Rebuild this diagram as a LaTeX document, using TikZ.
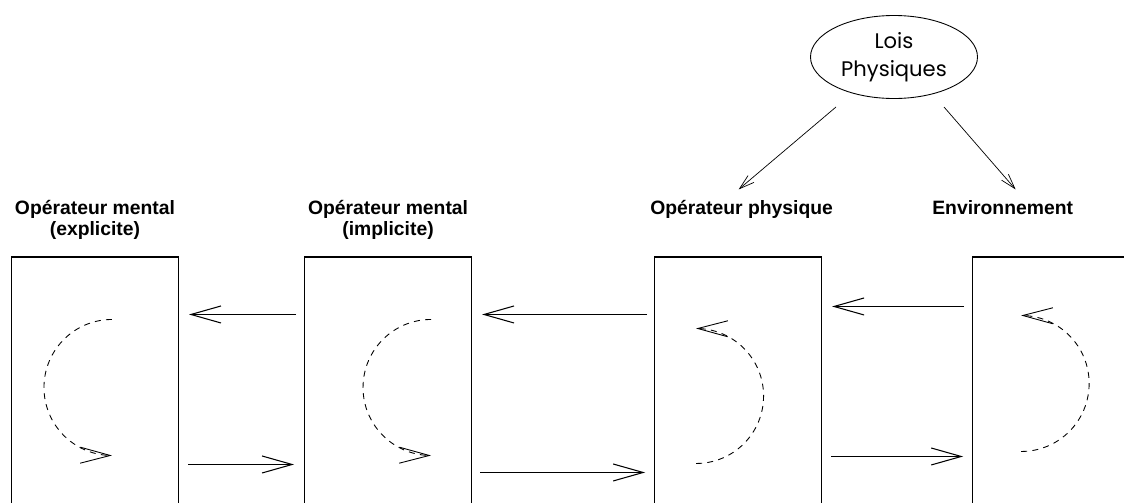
\documentclass[tikz,border=0pt]{standalone}
\usepackage{fontspec}
\setmainfont{Liberation Sans}
\newfontfamily\loisfont{Poppins}
\usetikzlibrary{positioning,calc,shapes.geometric,arrows.meta,bending}

\tikzset{
  boite/.style={draw, line width=0.6pt, minimum width=3.34cm, minimum height=5.26cm, inner sep=0pt},
  titre/.style={font=\bfseries\fontsize{11}{12}\selectfont, align=center, anchor=base, inner sep=0pt},
  fleche/.style={line width=0.6pt, -{Straight Barb[length=0.6cm,width=0.34cm]}},
  boucle/.style={line width=0.5pt, dash pattern=on 3.4pt off 3pt, -{Straight Barb[length=0.6cm,width=0.32cm,flex]}},
  loi/.style={line width=0.4pt, -{Straight Barb[length=0.3cm,width=0.18cm]}},
}

\begin{document}
\begin{tikzpicture}
  \useasboundingbox (0,0) rectangle (22.48,-10.04);
  \clip (0,0) rectangle (22.48,-10.04);
  % les quatre boites
  \node[boite] (b1) at (1.90,-7.77) {};
  \node[boite, right=2.5cm of b1] (b2) {};
  \node[boite, right=3.64cm of b2] (b3) {};
  \node[boite, right=3.0cm of b3] (b4) {};
  % base = derniere ligne du titre
  \node[titre] (t1) at ($(b1.north)+(0,0.42)$) {Opérateur mental\\(explicite)};
  \node[titre] (t2) at ($(b2.north)+(0,0.42)$) {Opérateur mental\\(implicite)};
  \node[titre] (t3) at ($(b3.north)+(0.07,0.84)$) {Opérateur physique};
  \node[titre] (t4) at ($(b4.north)+(-1.07,0.84)$) {Environnement};
  \node[draw, ellipse, line width=0.5pt, minimum width=3.34cm, minimum height=1.66cm, inner sep=0pt,
        align=center, font=\loisfont\fontsize{12}{16}\selectfont] (lois) at (17.88,-1.14) {Lois\\Physiques};
  \draw[loi] ($(lois.center)+(-1.16,-1.00)$) -- ($(t3.base)+(-0.06,0.5)$);
  \draw[loi] ($(lois.center)+(1.00,-1.00)$) -- ($(t4.base)+(0.26,0.5)$);
  % echanges entre boites
  \draw[fleche] ($(b2.north west)+(-0.16,-1.16)$) -- ($(b1.north east)+(0.20,-1.16)$);
  \draw[fleche] ($(b1.north east)+(0.18,-4.16)$) -- ($(b2.north west)+(-0.20,-4.16)$);
  \draw[fleche] ($(b3.north west)+(-0.14,-1.16)$) -- ($(b2.north east)+(0.20,-1.16)$);
  \draw[fleche] ($(b2.north east)+(0.16,-4.32)$) -- ($(b3.north west)+(-0.18,-4.32)$);
  \draw[fleche] ($(b4.north west)+(-0.16,-1.00)$) -- ($(b3.north east)+(0.20,-1.00)$);
  \draw[fleche] ($(b3.north east)+(0.18,-4.00)$) -- ($(b4.north west)+(-0.18,-4.00)$);
  % boucles internes
  \draw[boucle] ($(b1.north west)+(2.02,-1.26)$) arc[start angle=90, end angle=270, radius=1.36];
  \draw[boucle] ($(b2.north west)+(2.54,-1.26)$) arc[start angle=90, end angle=270, radius=1.36];
  \draw[boucle] ($(b3.north west)+(0.84,-4.14)$) arc[start angle=-90, end angle=90, radius=1.35];
  \draw[boucle] ($(b4.north west)+(0.98,-3.90)$) arc[start angle=-90, end angle=90, radius=1.36];
\end{tikzpicture}
\end{document}
